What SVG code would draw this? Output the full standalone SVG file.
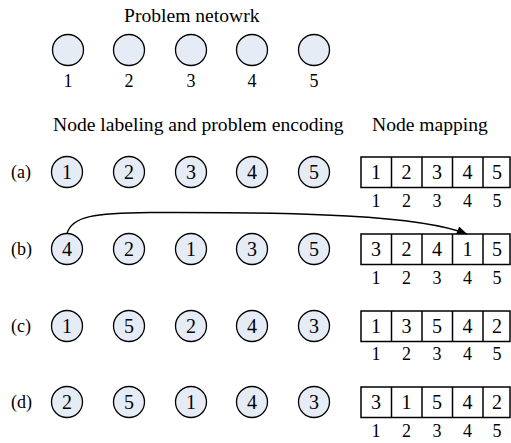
<svg xmlns="http://www.w3.org/2000/svg" width="511" height="443" viewBox="0 0 511 443" font-family="'Liberation Serif', 'Times New Roman', Times, serif">
  <style>
    text { font-family: 'Liberation Serif', 'Times New Roman', Times, serif; fill: #000; text-anchor: middle; }
    .hdr { font-size: 19.6px; text-anchor: start; }
    .idx { font-size: 18px; }
    .row { font-size: 18px; text-anchor: start; }
    .nd { fill: #E6ECF6; stroke: #000; stroke-width: 1.3; }
    .dig { font-size: 20px; }
    .cell { fill: #fff; stroke: #000; stroke-width: 1.5; }
    .sep { stroke: #000; stroke-width: 1.5; }
    .bd { font-size: 20px; }
    .link { fill: none; stroke: #000; stroke-width: 1.4; }
  </style>
  <defs>
    <marker id="arrow" viewBox="0 0 10 8" refX="10" refY="4" markerWidth="11" markerHeight="8" markerUnits="userSpaceOnUse" orient="auto">
      <path d="M0,0 L10,4 L0,8 z" fill="#000"/>
    </marker>
    <!-- a five-cell mapping strip -->
    <g id="strip">
      <rect class="cell" x="361" y="0" width="149" height="30.5"/>
      <line class="sep" x1="391.5" y1="0" x2="391.5" y2="30.5"/>
      <line class="sep" x1="422" y1="0" x2="422" y2="30.5"/>
      <line class="sep" x1="452.5" y1="0" x2="452.5" y2="30.5"/>
      <line class="sep" x1="483" y1="0" x2="483" y2="30.5"/>
    </g>
    <g id="idx">
      <text class="idx" x="376">1</text>
      <text class="idx" x="406.5">2</text>
      <text class="idx" x="437">3</text>
      <text class="idx" x="467.5">4</text>
      <text class="idx" x="497">5</text>
    </g>
  </defs>

  <!-- headers -->
  <text class="hdr" x="124" y="22">Problem netowrk</text>
  <text class="hdr" x="53" y="131">Node labeling and problem encoding</text>
  <text class="hdr" x="372" y="131">Node mapping</text>

  <!-- problem network -->
  <g id="network">
    <g id="net-1"><circle class="nd" cx="68" cy="50" r="15.5"/><text class="idx" x="68" y="87">1</text></g>
    <g id="net-2"><circle class="nd" cx="129" cy="50" r="15.5"/><text class="idx" x="129" y="87">2</text></g>
    <g id="net-3"><circle class="nd" cx="191" cy="50" r="15.5"/><text class="idx" x="191" y="87">3</text></g>
    <g id="net-4"><circle class="nd" cx="252" cy="50" r="15.5"/><text class="idx" x="252" y="87">4</text></g>
    <g id="net-5"><circle class="nd" cx="314" cy="50" r="15.5"/><text class="idx" x="314" y="87">5</text></g>
  </g>

  <!-- row (a) -->
  <g id="row-a">
    <text class="row" x="11" y="178">(a)</text>
    <g id="a-n1"><circle class="nd" cx="67" cy="172" r="15.5"/><text class="dig" x="67" y="179">1</text></g>
    <g id="a-n2"><circle class="nd" cx="129" cy="172" r="15.5"/><text class="dig" x="129" y="179">2</text></g>
    <g id="a-n3"><circle class="nd" cx="191" cy="172" r="15.5"/><text class="dig" x="191" y="179">3</text></g>
    <g id="a-n4"><circle class="nd" cx="252" cy="172" r="15.5"/><text class="dig" x="252" y="179">4</text></g>
    <g id="a-n5"><circle class="nd" cx="314" cy="172" r="15.5"/><text class="dig" x="314" y="179">5</text></g>
    <g id="a-map">
      <use href="#strip" y="157"/>
      <text class="bd" x="376" y="179">1</text>
      <text class="bd" x="406.5" y="179">2</text>
      <text class="bd" x="437" y="179">3</text>
      <text class="bd" x="467.5" y="179">4</text>
      <text class="bd" x="497" y="179">5</text>
      <use href="#idx" y="207"/>
    </g>
  </g>

  <!-- row (b) -->
  <g id="row-b">
    <text class="row" x="11" y="255">(b)</text>
    <g id="b-n4"><circle class="nd" cx="67" cy="249" r="15.5"/><text class="dig" x="67" y="256">4</text></g>
    <g id="b-n2"><circle class="nd" cx="129" cy="249" r="15.5"/><text class="dig" x="129" y="256">2</text></g>
    <g id="b-n1"><circle class="nd" cx="191" cy="249" r="15.5"/><text class="dig" x="191" y="256">1</text></g>
    <g id="b-n3"><circle class="nd" cx="252" cy="249" r="15.5"/><text class="dig" x="252" y="256">3</text></g>
    <g id="b-n5"><circle class="nd" cx="314" cy="249" r="15.5"/><text class="dig" x="314" y="256">5</text></g>
    <g id="b-map">
      <use href="#strip" y="234"/>
      <text class="bd" x="376" y="256">3</text>
      <text class="bd" x="406.5" y="256">2</text>
      <text class="bd" x="437" y="256">4</text>
      <text class="bd" x="467.5" y="256">1</text>
      <text class="bd" x="497" y="256">5</text>
      <use href="#idx" y="284"/>
    </g>
  </g>

  <!-- row (c) -->
  <g id="row-c">
    <text class="row" x="11" y="332">(c)</text>
    <g id="c-n1"><circle class="nd" cx="67" cy="326" r="15.5"/><text class="dig" x="67" y="333">1</text></g>
    <g id="c-n5"><circle class="nd" cx="129" cy="326" r="15.5"/><text class="dig" x="129" y="333">5</text></g>
    <g id="c-n2"><circle class="nd" cx="191" cy="326" r="15.5"/><text class="dig" x="191" y="333">2</text></g>
    <g id="c-n4"><circle class="nd" cx="252" cy="326" r="15.5"/><text class="dig" x="252" y="333">4</text></g>
    <g id="c-n3"><circle class="nd" cx="314" cy="326" r="15.5"/><text class="dig" x="314" y="333">3</text></g>
    <g id="c-map">
      <use href="#strip" y="311"/>
      <text class="bd" x="376" y="333">1</text>
      <text class="bd" x="406.5" y="333">3</text>
      <text class="bd" x="437" y="333">5</text>
      <text class="bd" x="467.5" y="333">4</text>
      <text class="bd" x="497" y="333">2</text>
      <use href="#idx" y="360"/>
    </g>
  </g>

  <!-- row (d) -->
  <g id="row-d">
    <text class="row" x="11" y="408">(d)</text>
    <g id="d-n2"><circle class="nd" cx="67" cy="402" r="15.5"/><text class="dig" x="67" y="409">2</text></g>
    <g id="d-n5"><circle class="nd" cx="129" cy="402" r="15.5"/><text class="dig" x="129" y="409">5</text></g>
    <g id="d-n1"><circle class="nd" cx="191" cy="402" r="15.5"/><text class="dig" x="191" y="409">1</text></g>
    <g id="d-n4"><circle class="nd" cx="252" cy="402" r="15.5"/><text class="dig" x="252" y="409">4</text></g>
    <g id="d-n3"><circle class="nd" cx="314" cy="402" r="15.5"/><text class="dig" x="314" y="409">3</text></g>
    <g id="d-map">
      <use href="#strip" y="387"/>
      <text class="bd" x="376" y="409">3</text>
      <text class="bd" x="406.5" y="409">1</text>
      <text class="bd" x="437" y="409">5</text>
      <text class="bd" x="467.5" y="409">4</text>
      <text class="bd" x="497" y="409">2</text>
      <use href="#idx" y="437"/>
    </g>
  </g>

  <!-- connector: node 4 of (b) to its slot in the mapping -->
  <g id="connectors">
    <path class="link" d="M67,233.5 C72,216 95,213 150,212.5 C300,212 420,215 467,234" marker-end="url(#arrow)"/>
  </g>
</svg>
